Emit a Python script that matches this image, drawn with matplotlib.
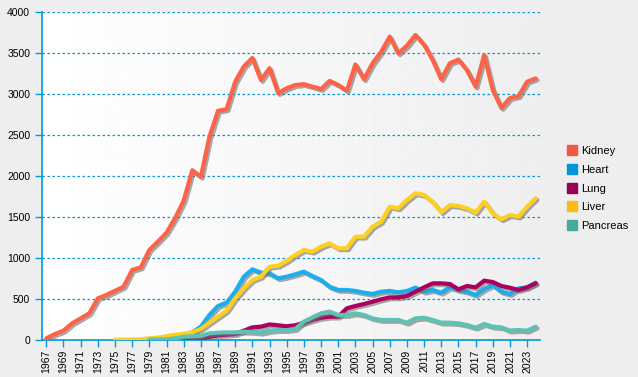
import numpy as np
import matplotlib
matplotlib.use("Agg")
import matplotlib.pyplot as plt
import matplotlib.patheffects as pe
from matplotlib.lines import Line2D

plt.rcParams['font.family'] = ['Liberation Sans', 'DejaVu Sans']

# transplants per year
kidney_years = list(range(1967, 2025))
kidney = [20, 73, 114, 203, 264, 325, 508, 549, 600, 650,
          854, 886, 1098, 1200, 1309, 1485, 1700, 2070, 1990, 2480,
          2795, 2815, 3150, 3335, 3440, 3170, 3315, 3010, 3070, 3110,
          3120, 3090, 3060, 3160, 3110, 3040, 3360, 3180, 3375, 3515,
          3700, 3495, 3590, 3720, 3600, 3415, 3180, 3375, 3420, 3290,
          3090, 3475, 3050, 2830, 2950, 2975, 3150, 3190]

heart_years = list(range(1984, 2025))
heart = [93, 163, 305, 415, 455, 589, 772, 862, 821, 813,
         752, 772, 801, 833, 780, 732, 650, 610, 610, 598,
         577, 561, 589, 598, 581, 598, 638, 589, 610, 577,
         642, 610, 589, 549, 622, 671, 589, 561, 630, 642,
         699]

lung_years = list(range(1983, 2025))
lung = [5, 8, 16, 40, 57, 65, 73, 114, 154, 163,
        190, 179, 168, 179, 211, 244, 272, 285, 285, 386,
        415, 439, 467, 496, 520, 520, 537, 589, 642, 691,
        691, 683, 618, 659, 642, 724, 707, 659, 638, 610,
        642, 691]

liver_years = list(range(1975, 2025))
liver = [5, 5, 5, 8, 20, 30, 45, 65, 75, 93,
         134, 211, 285, 358, 508, 630, 732, 772, 894, 906,
         965, 1037, 1098, 1077, 1138, 1179, 1118, 1118, 1260, 1260,
         1382, 1443, 1626, 1606, 1707, 1789, 1768, 1687, 1557, 1646,
         1634, 1606, 1553, 1687, 1545, 1472, 1524, 1504, 1626, 1728]

pancreas_years = list(range(1979, 2025))
pancreas = [5, 5, 8, 20, 40, 45, 49, 81, 89, 93,
            93, 102, 98, 89, 110, 122, 120, 135, 224, 276,
            325, 346, 305, 305, 325, 305, 264, 244, 244, 244,
            211, 264, 272, 244, 211, 211, 203, 183, 150, 195,
            163, 154, 114, 122, 114, 163]

organs = ["Kidney", "Heart", "Lung", "Liver", "Pancreas"]
line_colors = ["#ff6347", "#1aaeee", "#aa0060", "#ffcf1e", "#5cc2b3"]
legend_colors = ["#f05a40", "#0096d8", "#9c0055", "#ffb914", "#47aaa0"]
series = [(kidney_years, kidney), (heart_years, heart), (lung_years, lung),
          (liver_years, liver), (pancreas_years, pancreas)]

blue = "#0099dd"

fig = plt.figure(figsize=(6.38, 3.77), dpi=100, facecolor="#eeeeee")
ax = fig.add_axes([42 / 638, 37 / 377, 498 / 638, 328 / 377])

# soft left-to-right background shading
grad = np.linspace(1.0, 0.935, 256).reshape(1, -1)
ax.imshow(grad, cmap="gray", vmin=0, vmax=1, aspect="auto",
          extent=[0, 1, 0, 1], transform=ax.transAxes, zorder=0)

shadow = [pe.SimpleLineShadow(offset=(1.3, -1.3), shadow_color="#707070", alpha=0.6),
          pe.Normal()]
for (yrs, vals), col in zip(series, line_colors):
    ax.plot(yrs, vals, color=col, lw=3, solid_joinstyle="round",
            solid_capstyle="round", path_effects=shadow, zorder=3)

ax.set_xlim(1966.5, 2024.5)
ax.set_ylim(0, 4000)
ax.set_yticks(range(0, 4001, 500))
ax.set_xticks(range(1967, 2024, 2))
ax.set_xticklabels([str(y) for y in range(1967, 2024, 2)], rotation=90)

ax.grid(axis="y", color=blue, linestyle=(0, (2, 2)), lw=0.9, zorder=1)
for s in ["top", "right"]:
    ax.spines[s].set_visible(False)
for s in ["left", "bottom"]:
    ax.spines[s].set_color(blue)
    ax.spines[s].set_linewidth(1.2)
ax.tick_params(axis="both", colors=blue, labelcolor="black", labelsize=7.5,
               direction="out", length=5, width=1)
ax.tick_params(axis="x", pad=2)
ax.set_axisbelow(True)

handles = [Line2D([], [], marker="s", ls="none", markersize=7,
                  markerfacecolor=c, markeredgecolor=c) for c in legend_colors]
fig.legend(handles, organs, loc="center left", bbox_to_anchor=(0.872, 0.5),
           frameon=False, fontsize=8, handletextpad=0.3, labelspacing=0.78,
           handlelength=1.0)

fig.savefig("out.png", dpi=100, facecolor=fig.get_facecolor())
